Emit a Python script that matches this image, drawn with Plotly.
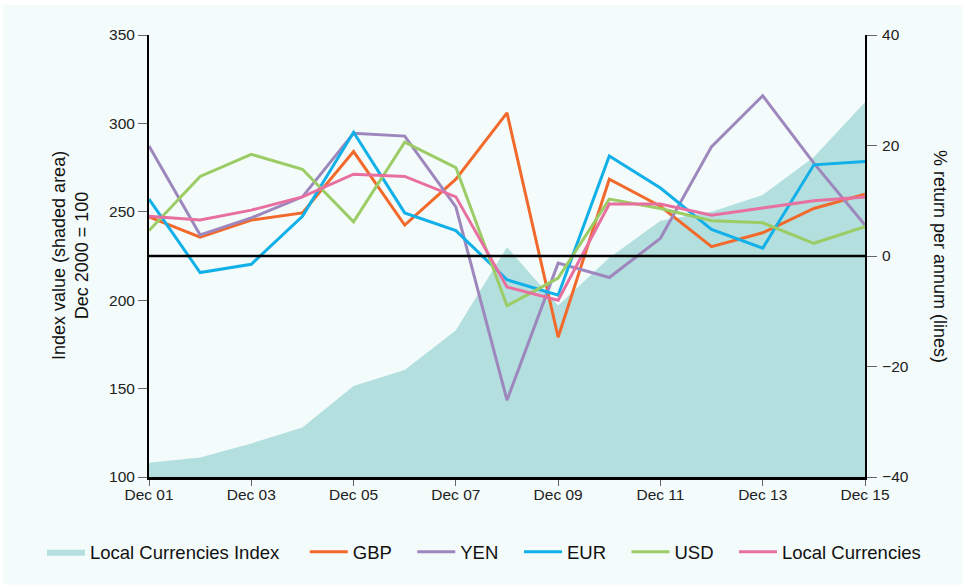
import plotly.graph_objects as go

years = ["Dec 01", "Dec 02", "Dec 03", "Dec 04", "Dec 05", "Dec 06", "Dec 07", "Dec 08",
         "Dec 09", "Dec 10", "Dec 11", "Dec 12", "Dec 13", "Dec 14", "Dec 15"]
tick_labels = ["Dec 01", "Dec 03", "Dec 05", "Dec 07", "Dec 09", "Dec 11", "Dec 13", "Dec 15"]

index_values = [108, 111, 119, 128, 151.5, 160.5, 183, 230, 197, 224, 245, 250, 259.5, 281, 312]

gbp = [7.1, 3.4, 6.5, 7.8, 18.9, 5.6, 13.9, 25.9, -14.7, 13.9, 9.0, 1.7, 4.2, 8.6, 11.2]
yen = [19.9, 3.8, 6.9, 10.7, 22.2, 21.7, 8.9, -26.1, -1.3, -3.9, 3.2, 19.8, 29.0, 16.8, 5.6]
eur = [10.3, -3.0, -1.5, 7.2, 22.4, 7.8, 4.6, -4.3, -7.1, 18.1, 12.3, 4.8, 1.4, 16.5, 17.1]
usd = [4.6, 14.4, 18.4, 15.7, 6.2, 20.6, 16.0, -9.0, -4.0, 10.3, 8.6, 6.4, 6.0, 2.3, 5.3]
local = [7.2, 6.5, 8.3, 10.7, 14.8, 14.4, 10.7, -5.6, -8.0, 9.4, 9.4, 7.4, 8.7, 10.0, 10.7]

left_ticks = [100, 150, 200, 250, 300, 350]
right_ticks = [-40, -20, 0, 20, 40]

FONT = "Liberation Sans, Arial, sans-serif"
BG = "#f4fbfb"
PAD = "\u00a0\u00a0\u00a0"

fig = go.Figure()
fig.add_trace(go.Scatter(
    x=years, y=index_values, name="Local Currencies Index" + PAD + "\u00a0", mode="lines",
    fill="tozeroy", fillcolor="#b3dfdf", line=dict(width=0, color="#b3dfdf"),
    yaxis="y", hoverinfo="skip", legend="legend"))

series = [("GBP", gbp, "#f26a2b", "legend"), ("YEN", yen, "#9d87bd", "legend"),
          ("EUR", eur, "#12b0e8", "legend2"), ("USD", usd, "#9ccc65", "legend2"),
          ("Local Currencies", local, "#e870a0", "legend2")]
for name, vals, col, lg in series:
    fig.add_trace(go.Scatter(x=years, y=vals, name=name + PAD, mode="lines",
                             line=dict(color=col, width=3), yaxis="y2", legend=lg))

legend_style = dict(orientation="h", y=-0.17, xanchor="left", yanchor="middle",
                    font=dict(size=18.5, color="#111"), bgcolor="rgba(0,0,0,0)",
                    itemwidth=38, traceorder="normal")

fig.update_layout(
    width=966, height=588,
    margin=dict(l=149, r=101, t=35, b=111),
    paper_bgcolor="white", plot_bgcolor="rgba(0,0,0,0)",
    font=dict(family=FONT, size=15.5, color="#222"),
    showlegend=True,
    legend=dict(x=(42 - 149) / 716, **legend_style),
    legend2=dict(x=(519 - 149) / 716, **legend_style),
    xaxis=dict(type="category", categoryorder="array", categoryarray=years,
               range=[0, 14], tickmode="array", tickvals=tick_labels, ticktext=tick_labels,
               showline=True, linecolor="black", linewidth=3, ticks="outside",
               ticklen=6, tickcolor="#666", showgrid=False, zeroline=False,
               ticklabelstandoff=-5),
    yaxis=dict(range=[100, 350], tickvals=left_ticks, showline=True, linecolor="black",
               linewidth=2, ticks="outside", ticklen=9, tickcolor="#666",
               showgrid=False, zeroline=False),
    yaxis2=dict(range=[-40, 40], tickvals=right_ticks, overlaying="y", side="right",
                showline=True, linecolor="black", linewidth=2, ticks="outside",
                ticklen=10, tickcolor="#666", showgrid=False, zeroline=False,
                ticklabelstandoff=2),
    shapes=[
        dict(type="rect", xref="paper", yref="paper", x0=-0.204, x1=1.137,
             y0=-0.244, y1=1.068, fillcolor=BG, line=dict(width=0), layer="below"),
        dict(type="line", xref="paper", yref="y2", x0=0, x1=1, y0=0, y1=0,
             line=dict(color="black", width=2.5), layer="above"),
    ],
    annotations=[
        dict(text="Index value (shaded area)<br>Dec 2000 = 100", textangle=-90,
             xref="paper", yref="paper", x=(70 - 149) / 716, y=0.5,
             xanchor="center", yanchor="middle",
             showarrow=False, font=dict(size=18, color="#111")),
        dict(text="% return per annum (lines)", textangle=90,
             xref="paper", yref="paper", x=(940 - 149) / 716, y=0.5,
             xanchor="center", yanchor="middle",
             showarrow=False, font=dict(size=18, color="#111")),
    ],
)

fig.write_html("out.html", config={"displayModeBar": False},
               post_script="document.body.style.margin='0px';")
